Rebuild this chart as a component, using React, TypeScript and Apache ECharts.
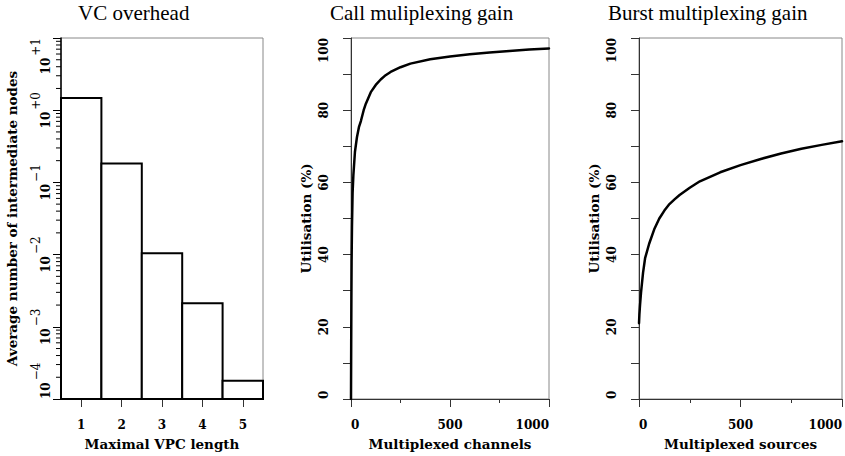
import React, { useEffect, useRef } from 'react';
import * as echarts from 'echarts';

// ---- data ----
const vpcLengths = ['1', '2', '3', '4', '5'];
const vcOverhead = [1.47, 0.182, 0.0104, 0.00212, 0.000179];
const logDecades = [-4, -3, -2, -1, 0]; // decades that get minor ticks (2..9 x 10^n)
const logMin = 1e-4;
const logMax = 10;

const callChannels = [0, 1, 2, 3, 5, 8, 12, 20, 30, 40, 50, 64, 75, 100, 125, 150, 175, 200, 250, 300, 400, 500, 600, 700, 800, 900, 1000];
const callUtilisation = [0, 15, 28, 38, 48, 57, 62, 68.5, 72.5, 75.3, 77, 80, 81.8, 85, 87, 88.5, 89.7, 90.6, 91.9, 92.9, 94.1, 94.9, 95.5, 96, 96.4, 96.8, 97.1];

const burstSources = [0, 2, 5, 10, 20, 30, 50, 75, 100, 125, 150, 175, 200, 250, 300, 400, 500, 600, 700, 800, 900, 1000];
const burstUtilisation = [21, 23.5, 26, 29.5, 35, 39, 43, 47, 50, 52.2, 54, 55.3, 56.5, 58.5, 60.3, 62.8, 64.8, 66.5, 68, 69.3, 70.4, 71.4];

const titles = ['VC overhead', 'Call muliplexing gain', 'Burst multiplexing gain'];

const SERIF = "'DejaVu Serif', serif";
const TITLE_FONT = "'Liberation Serif', serif";

const labelText = { fontFamily: SERIF, fontWeight: 'bold' as const, fontSize: 12, color: '#000' };
const nameText = { fontFamily: SERIF, fontWeight: 'bold' as const, fontSize: 13.5, color: '#000' };

function linearYAxis(gridIndex: number) {
  return {
    type: 'value',
    gridIndex,
    min: 0,
    max: 100,
    interval: 20,
    name: 'Utilisation (%)',
    nameLocation: 'middle',
    nameRotate: 90,
    nameGap: 38,
    nameTextStyle: nameText,
    axisLine: { show: true, lineStyle: { color: '#333', width: 1 } },
    axisTick: { show: true, inside: false, length: 8, lineStyle: { color: '#333', width: 1 } },
    minorTick: { show: true, splitNumber: 2, length: 8, lineStyle: { color: '#333', width: 1 } },
    splitLine: { show: false },
    minorSplitLine: { show: false },
    axisLabel: {
      ...labelText,
      rotate: 90,
      margin: 21,
      alignMinLabel: 'left',
      alignMaxLabel: 'right',
      formatter: (v: number) => String(v),
    },
  };
}

function linearXAxis(gridIndex: number, name: string) {
  return {
    type: 'value',
    gridIndex,
    min: 0,
    max: 1000,
    interval: 500,
    name,
    nameLocation: 'middle',
    nameGap: 38,
    nameTextStyle: nameText,
    axisLine: { show: true, lineStyle: { color: '#333', width: 1 } },
    axisTick: { show: true, inside: false, length: 8, lineStyle: { color: '#333', width: 1 } },
    minorTick: { show: true, splitNumber: 2, length: 4, lineStyle: { color: '#333', width: 1 } },
    splitLine: { show: false },
    minorSplitLine: { show: false },
    axisLabel: {
      ...labelText,
      margin: 20,
      alignMinLabel: 'left',
      alignMaxLabel: 'right',
      formatter: (v: number) => String(v),
    },
  };
}

export default function App() {
  const ref = useRef<HTMLDivElement>(null);

  useEffect(() => {
    const chart = echarts.init(ref.current!, null, { renderer: 'svg' });

    const minorTickValues: number[][] = [];
    logDecades.forEach((d) => {
      for (let k = 2; k <= 9; k++) minorTickValues.push([0, k * Math.pow(10, d)]);
    });

    const option: any = {
      animation: false,
      backgroundColor: '#fff',
      title: [
        { text: titles[0], left: 78, top: 2 },
        { text: titles[1], left: 330, top: 2 },
        { text: titles[2], left: 608, top: 2 },
      ].map((t) => ({
        ...t,
        padding: 0,
        textStyle: { fontFamily: TITLE_FONT, fontWeight: 'normal', fontSize: 21, color: '#000' },
      })),
      grid: [
        { left: 61, top: 38, width: 202, height: 362, show: true, borderColor: '#888', borderWidth: 1, backgroundColor: 'transparent' },
        { left: 351, top: 38, width: 198, height: 362, show: true, borderColor: '#888', borderWidth: 1, backgroundColor: 'transparent' },
        { left: 639, top: 38, width: 203, height: 362, show: true, borderColor: '#888', borderWidth: 1, backgroundColor: 'transparent' },
      ],
      xAxis: [
        {
          type: 'category',
          gridIndex: 0,
          data: vpcLengths,
          boundaryGap: true,
          name: 'Maximal VPC length',
          nameLocation: 'middle',
          nameGap: 38,
          nameTextStyle: nameText,
          axisLine: { show: true, lineStyle: { color: '#000', width: 1 } },
          axisTick: { show: true, alignWithLabel: true, inside: false, length: 8, lineStyle: { color: '#333', width: 1 } },
          splitLine: { show: false },
          axisLabel: { ...labelText, margin: 20 },
        },
        linearXAxis(1, 'Multiplexed channels'),
        linearXAxis(2, 'Multiplexed sources'),
      ],
      yAxis: [
        {
          type: 'log',
          logBase: 10,
          gridIndex: 0,
          min: logMin,
          max: logMax,
          name: 'Average number of intermediate nodes',
          nameLocation: 'middle',
          nameRotate: 90,
          nameGap: 42,
          nameTextStyle: nameText,
          axisLine: { show: true, lineStyle: { color: '#000', width: 1.5 } },
          axisTick: { show: true, inside: false, length: 8, lineStyle: { color: '#000', width: 1 } },
          splitLine: { show: false },
          axisLabel: {
            rotate: 90,
            margin: 9,
            alignMinLabel: 'left',
            alignMaxLabel: 'right',
            formatter: (v: number) => {
              const e = Math.round(Math.log10(v));
              const s = e >= 0 ? '+' + e : '\u2212' + -e;
              return `{b|10}{s|${s}}`;
            },
            rich: {
              b: { fontFamily: SERIF, fontWeight: 'bold', fontSize: 12, color: '#000', lineHeight: 22, verticalAlign: 'bottom' },
              s: { fontFamily: SERIF, fontWeight: 'normal', fontSize: 12, color: '#000', lineHeight: 12, verticalAlign: 'top', padding: [0, 0, 0, 2] },
            },
          },
        },
        linearYAxis(1),
        linearYAxis(2),
      ],
      series: [
        {
          type: 'custom',
          xAxisIndex: 0,
          yAxisIndex: 0,
          data: vcOverhead.map((v, i) => [i, v]),
          encode: { x: 0, y: 1 },
          renderItem: (params: any, api: any) => {
            const idx = api.value(0);
            const v = api.value(1);
            const top = api.coord([idx, v]);
            const base = api.coord([idx, logMin]);
            const half = (api.coord([1, v])[0] - api.coord([0, v])[0]) / 2;
            return {
              type: 'rect',
              shape: { x: top[0] - half, y: top[1], width: half * 2, height: base[1] - top[1] },
              style: { fill: '#fff', stroke: '#000', lineWidth: 2 },
            };
          },
          z: 3,
        },
        {
          type: 'custom',
          xAxisIndex: 0,
          yAxisIndex: 0,
          data: minorTickValues,
          encode: { x: 0, y: 1 },
          clip: false,
          silent: true,
          renderItem: (params: any, api: any) => {
            const y = api.coord([0, api.value(1)])[1];
            const x0 = params.coordSys.x;
            return {
              type: 'line',
              shape: { x1: x0 - 5, y1: y, x2: x0, y2: y },
              style: { stroke: '#000', lineWidth: 1 },
            };
          },
        },
        {
          type: 'line',
          xAxisIndex: 1,
          yAxisIndex: 1,
          data: callChannels.map((c, i) => [c, callUtilisation[i]]),
          showSymbol: false,
          smooth: false,
          lineStyle: { color: '#000', width: 2.5, join: 'round', cap: 'round' },
        },
        {
          type: 'line',
          xAxisIndex: 2,
          yAxisIndex: 2,
          data: burstSources.map((c, i) => [c, burstUtilisation[i]]),
          showSymbol: false,
          smooth: false,
          lineStyle: { color: '#000', width: 2.5, join: 'round', cap: 'round' },
        },
      ],
    };

    chart.setOption(option);
    return () => chart.dispose();
  }, []);

  return (
    <div
      ref={ref}
      style={{ position: 'fixed', left: 0, top: 0, width: 845, height: 456, background: '#fff' }}
    />
  );
}
